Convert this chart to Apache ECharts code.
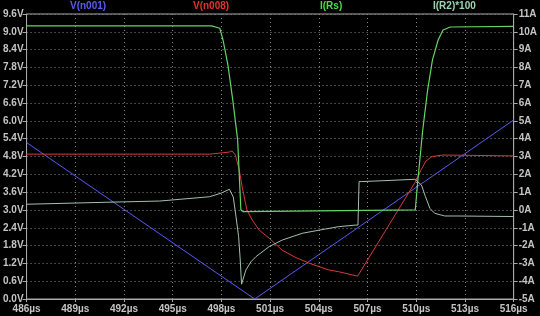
<!DOCTYPE html>
<html>
<head>
<meta charset="utf-8">
<script src="https://cdn.jsdelivr.net/npm/echarts@6/dist/echarts.min.js"></script>
<style>
html,body{margin:0;padding:0;background:#000;}
#c{width:540px;height:316px;}
</style>
</head>
<body>
<div id="c"></div>
<script>
// X axis ticks (µs)
const xTicks = [486, 489, 492, 495, 498, 501, 504, 507, 510, 513, 516];

// V(n001) – volts (left axis)
const vn001T = [486, 500.05, 516];
const vn001V = [5.27, 0, 6.03];

// V(n008) – volts (left axis)
const vn008T = [486, 497.3, 498.49, 498.65, 498.86, 499.1, 499.28, 499.57, 499.9, 500.33, 500.94, 501.73, 502.53, 503.39, 504.61, 505.22, 506.39, 509.94, 510.3, 510.6, 510.98, 511.65, 516];
const vn008V = [4.88, 4.88, 4.95, 4.99, 4.85, 4.35, 3.77, 3.0, 2.66, 2.32, 2.05, 1.65, 1.41, 1.21, 0.98, 0.92, 0.77, 3.94, 4.35, 4.65, 4.80, 4.85, 4.82];

// I(Rs) – amps (right axis)
const iRsT = [486, 497.4, 497.9, 498.1, 498.4, 498.7, 499.0, 499.2, 499.35, 509.94, 510.1, 510.4, 510.7, 511.0, 511.35, 511.65, 512.1, 516];
const iRsA = [10.33, 10.33, 10.2, 9.54, 8.14, 6.17, 3.93, 0.0, -0.1, 0.0, 1.68, 4.49, 6.73, 8.42, 9.54, 10.1, 10.27, 10.3];

// I(R2)*100 – amps (right axis)
const iR2T = [486, 490.9, 494.2, 497.27, 498.0, 498.49, 498.61, 498.73, 498.9, 499.06, 499.16, 499.24, 499.51, 499.82, 500.12, 500.94, 501.75, 502.98, 504.41, 505.22, 506.25, 506.41, 506.48, 506.65, 509.92, 510.02, 510.32, 510.57, 510.84, 511.14, 511.76, 512.57, 516];
const iR2A = [0.32, 0.43, 0.5, 0.74, 0.95, 1.16, 1.18, 0.73, -0.38, -1.5, -2.81, -4.17, -3.37, -2.91, -2.63, -2.06, -1.69, -1.31, -1.07, -0.94, -0.85, -0.85, 1.59, 1.59, 1.72, 1.79, 1.4, 0.74, 0.09, -0.19, -0.34, -0.34, -0.37];

const zip = (a, b) => a.map((t, i) => [t, b[i]]);

const labelColor = '#c4c4c4';
const fontFam = 'Liberation Sans, Arial, sans-serif';

const chart = echarts.init(document.getElementById('c'), null, {renderer: 'canvas'});

function legendItem(name, color, left) {
  return {
    data: [{name: name, icon: 'none'}],
    left: left, top: 1, itemWidth: 0, itemHeight: 0, itemGap: 0, padding: 0,
    selectedMode: false,
    textStyle: {color: color, fontSize: 10, fontFamily: fontFam, fontWeight: 'bold', padding: [0,0,0,-5]}
  };
}

chart.setOption({
  backgroundColor: '#000000',
  animation: false,
  legend: [
    legendItem('V(n001)', '#5a5af0', 70),
    legendItem('V(n008)', '#e83030', 193),
    legendItem('I(Rs)', '#46e046', 320),
    legendItem('I(R2)*100', '#98d8b0', 433)
  ],
  grid: {left: 26, right: 24, top: 14, bottom: 17, show: true, borderColor: '#a8a8a8', borderWidth: 1, backgroundColor: 'transparent'},
  xAxis: {
    type: 'value', min: xTicks[0], max: xTicks[xTicks.length - 1], interval: 3,
    axisLine: {show: true, lineStyle: {color: '#a8a8a8'}},
    axisTick: {show: true, length: 3, inside: false, lineStyle: {color: '#a8a8a8'}},
    axisLabel: {color: labelColor, fontSize: 10, fontFamily: fontFam, fontWeight: 'bold', margin: 5,
      showMinLabel: true, showMaxLabel: true, hideOverlap: false,
      formatter: v => v + 'µs'},
    splitLine: {show: true, lineStyle: {color: '#8a8a8a', type: [1, 3], width: 1}}
  },
  yAxis: [
    {
      type: 'value', min: 0, max: 9.6, interval: 0.6, position: 'left',
      axisLine: {show: true, lineStyle: {color: '#a8a8a8'}},
      axisTick: {show: true, length: 4, lineStyle: {color: '#a8a8a8'}},
      axisLabel: {color: labelColor, fontSize: 10, fontFamily: fontFam, fontWeight: 'bold', margin: 3,
        showMinLabel: true, showMaxLabel: true,
        formatter: v => v.toFixed(1) + 'V'},
      splitLine: {show: true, lineStyle: {color: '#8a8a8a', type: [1, 3], width: 1}}
    },
    {
      type: 'value', min: -5, max: 11, interval: 1, position: 'right',
      axisLine: {show: true, lineStyle: {color: '#a8a8a8'}},
      axisTick: {show: true, length: 4, lineStyle: {color: '#a8a8a8'}},
      axisLabel: {color: labelColor, fontSize: 10, fontFamily: fontFam, fontWeight: 'bold', margin: 5,
        showMinLabel: true, showMaxLabel: true,
        formatter: v => v + 'A'},
      splitLine: {show: false}
    }
  ],
  series: [
    {name: 'V(n001)', type: 'line', yAxisIndex: 0, data: zip(vn001T, vn001V), showSymbol: false,
      lineStyle: {color: '#5a5af0', width: 1}, itemStyle: {color: '#5a5af0'}},
    {name: 'V(n008)', type: 'line', yAxisIndex: 0, data: zip(vn008T, vn008V), showSymbol: false,
      lineStyle: {color: '#d83838', width: 1}, itemStyle: {color: '#d83838'}},
    {name: 'I(Rs)', type: 'line', yAxisIndex: 1, data: zip(iRsT, iRsA), showSymbol: false,
      lineStyle: {color: '#66d466', width: 1.2}, itemStyle: {color: '#66d466'}},
    {name: 'I(R2)*100', type: 'line', yAxisIndex: 1, data: zip(iR2T, iR2A), showSymbol: false,
      lineStyle: {color: '#a2bfae', width: 1}, itemStyle: {color: '#a2bfae'}}
  ]
});
</script>
</body>
</html>
